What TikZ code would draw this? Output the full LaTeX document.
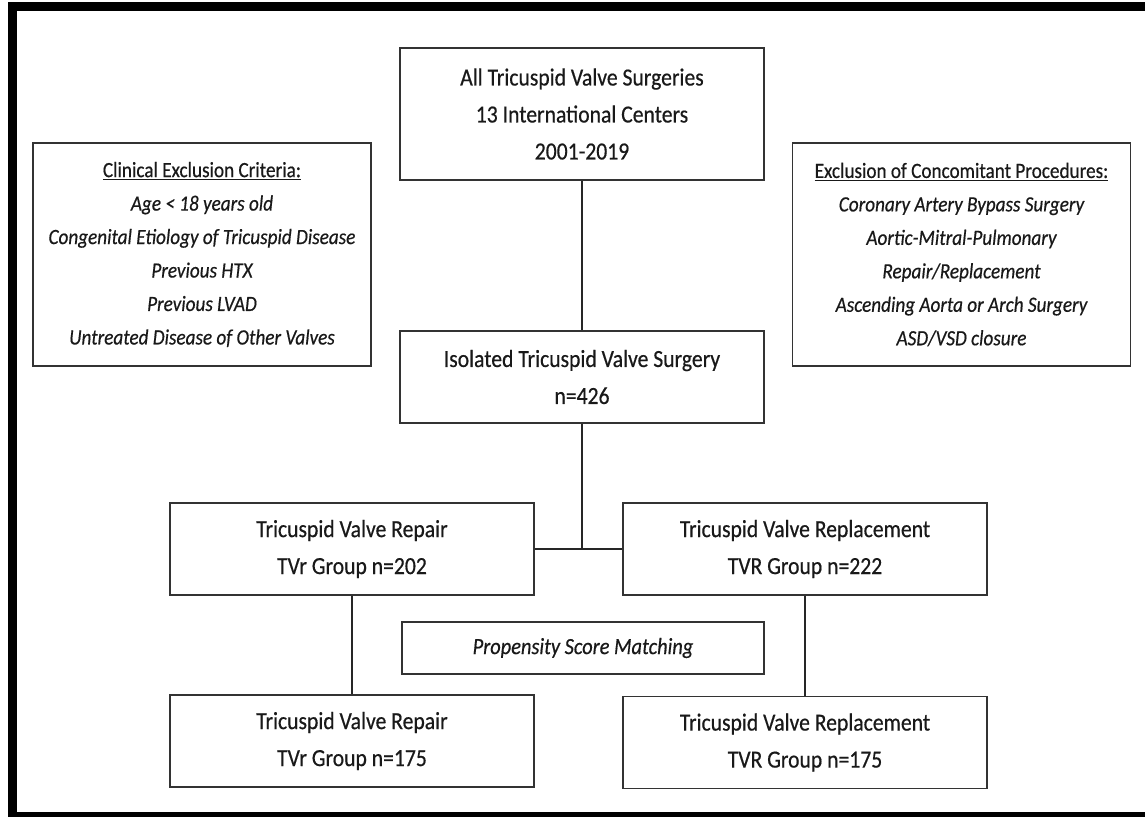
\documentclass[tikz,border=0pt]{standalone}
\usepackage{fontspec}
\setmainfont{Carlito}[FakeStretch=0.88, FakeBold=0.5]
\usepackage{tikz}

\begin{document}
\begin{tikzpicture}[x=0.025cm, y=-0.025cm, every node/.style={draw=black!80, line width=0.9pt, align=center, inner sep=0pt, text=black!90}]
\tikzset{big/.style={font=\fontsize{17.5}{26.3}\selectfont, minimum width=9.1cm, minimum height=2.3cm}}
\tikzset{side/.style={font=\fontsize{15.5}{23.8}\selectfont, minimum width=8.45cm, minimum height=5.575cm}}
\tikzset{link/.style={draw=black!85, line width=1.2pt}}
\clip (0,0) rectangle (1145,816);
% outer frame
\draw[line width=0.225cm] (1170,6) -- (12.5,6) -- (12.5,816) -- (1170,816);
\node[big, minimum height=3.3cm] (all) at (582,114) {All Tricuspid Valve Surgeries\\13 International Centers\\2001-2019};
\node[side] (clin) at (202,254.5) {\underline{Clinical Exclusion Criteria:}\\\itshape Age < 18 years old\\\itshape Congenital Etiology of Tricuspid Disease\\\itshape Previous HTX\\\itshape Previous LVAD\\\itshape Untreated Disease of Other Valves};
\node[side] (conc) at (961.5,254.5) {\underline{Exclusion of Concomitant Procedures:}\\\itshape Coronary Artery Bypass Surgery\\\itshape Aortic-Mitral-Pulmonary\\\itshape Repair/Replacement\\\itshape Ascending Aorta or Arch Surgery\\\itshape ASD/VSD closure};
\node[big] (iso) at (582,377) {Isolated Tricuspid Valve Surgery\\n=426};
\node[big] (rep) at (352,549) {Tricuspid Valve Repair\\TVr Group n=202};
\node[big] (repl) at (805,549) {Tricuspid Valve Replacement\\TVR Group n=222};
\node[big, minimum width=9.05cm, minimum height=1.3cm, font=\fontsize{16.5}{20}\selectfont\itshape] (psm) at (583,648) {Propensity Score Matching};
\node[big] (rep2) at (352,741) {Tricuspid Valve Repair\\TVr Group n=175};
\node[big] (repl2) at (805,742.5) {Tricuspid Valve Replacement\\TVR Group n=175};
\coordinate (junc) at (582,549);
\draw[link] (all) -- (iso);
\draw[link] (iso) -- (junc);
\draw[link] (rep) -- (repl);
\draw[link] (rep) -- (rep2);
\draw[link] (repl) -- (repl2);
\end{tikzpicture}
\end{document}
